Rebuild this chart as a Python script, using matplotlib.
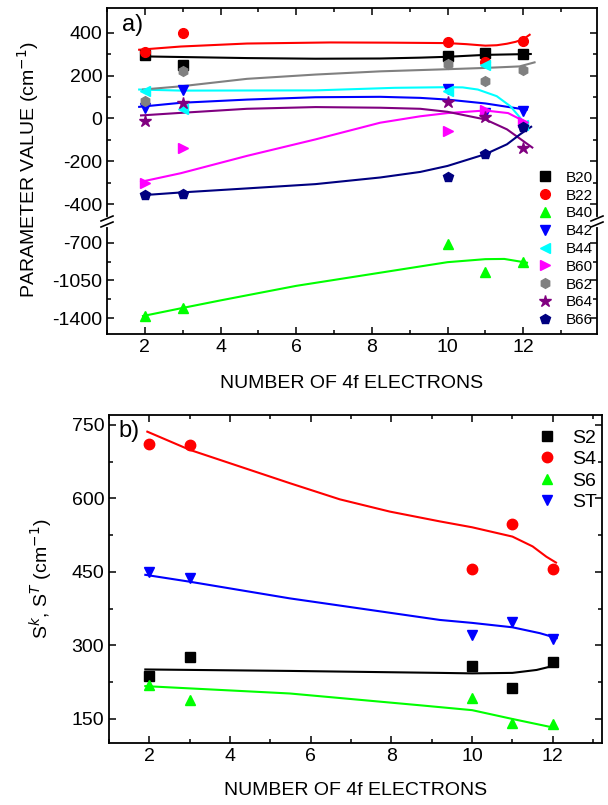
import numpy as np
import matplotlib
matplotlib.use("Agg")
import matplotlib.pyplot as plt
from matplotlib.ticker import MultipleLocator, FixedLocator
from matplotlib.lines import Line2D

plt.rcParams['font.family'] = ['Liberation Sans', 'DejaVu Sans']
plt.rcParams['axes.unicode_minus'] = False

# ---------------------------- data ----------------------------#
n_electrons = [2, 3, 10, 11, 12]

b20 = [295, 248, 290, 306, 300]
b22 = [310, 400, 355, 265, 363]
b40 = [-1380, -1310, -710, -975, -880]
b42 = [50, 135, 138, 25, 34]
b44 = [130, 45, 127, 251, -30]
b60 = [-300, -140, -59, 40, -18]
b62 = [80, 223, 256, 174, 228]
b64 = [-10, 70, 76, 6, -136]
b66 = [-360, -355, -276, -167, -38]

# fitted curves (x, value)
fit_b20_x = [1.9, 2.95, 4.7, 6.51, 8.22, 9.28, 10, 11, 12.2]
fit_b20 = [290, 287, 282, 279, 280, 284, 288, 297, 301]
fit_b22_x = [1.85, 2.95, 4.7, 6.9, 8.5, 10, 10.5, 11, 11.3, 11.57, 11.8, 12.0, 12.17]
fit_b22 = [321, 336, 350, 355, 354, 352, 347, 340, 342, 349, 358, 370, 391]
fit_b40_x = [1.95, 3, 4, 6, 8, 10, 11, 11.5, 12.1]
fit_b40 = [-1380, -1305, -1235, -1100, -990, -880, -852, -850, -885]
fit_b42_x = [1.85, 2.95, 4.7, 6.51, 8.22, 9.28, 10, 11, 11.92, 12.1]
fit_b42 = [54, 73, 88, 99, 101, 96, 88, 70, 45, 42]
fit_b44_x = [1.85, 2.95, 6.51, 8.6, 10, 10.4, 10.8, 11.3, 11.66, 11.92, 12.08]
fit_b44 = [135, 130, 131, 143, 146, 145, 135, 104, 57, 3, -43]
fit_b60_x = [1.9, 2.95, 4.7, 6.51, 8.22, 9.28, 10, 11, 11.6, 12.1]
fit_b60 = [-296, -256, -175, -98, -20, 10, 25, 37, 25, -20]
fit_b62_x = [1.95, 2.95, 4.7, 6.51, 8.22, 10, 11, 11.9, 12.3]
fit_b62 = [135, 150, 185, 205, 220, 230, 236, 243, 262]
fit_b64_x = [1.9, 2.95, 4.7, 6.51, 8.22, 9.28, 10, 11, 11.57, 12.24]
fit_b64 = [14, 26, 45, 53, 50, 45, 31, -5, -51, -136]
fit_b66_x = [2, 2.95, 4.7, 6.51, 8.22, 9.28, 10, 11, 11.57, 11.92, 12.21]
fit_b66 = [-358, -346, -327, -307, -276, -250, -222, -167, -121, -74, -39]

s2 = [238, 276, 259, 213, 266]
s4 = [711, 709, 456, 547, 456]
s6 = [219, 189, 192, 142, 140]
st = [449, 437, 321, 347, 313]

fit_s2_x = [1.9, 5.5, 9.2, 10, 11, 11.6, 12.1]
fit_s2 = [251, 248, 244, 243, 244, 250, 260]
fit_s4_x = [1.95, 3, 4.24, 5.48, 6.72, 7.96, 9.2, 10, 11, 11.5, 11.84, 12.08]
fit_s4 = [736, 699, 665, 631, 598, 573, 553, 541, 522, 502, 481, 469]
fit_s6_x = [1.9, 5.48, 8.7, 10, 11, 12.1]
fit_s6 = [217, 202, 178, 168, 150, 131]
fit_st_x = [1.9, 3, 5.48, 9.2, 10, 11, 11.68, 12.1]
fit_st = [444, 430, 396, 352, 346, 337, 325, 315]

# ---------------------------- figure ----------------------------#
W, H = 608, 805
fig = plt.figure(figsize=(W / 100, H / 100), dpi=100)

def fx(px):
    return px / W

def fy(py):
    return 1 - py / H

ax_hi = fig.add_axes([fx(107), fy(222), fx(597) - fx(107), fy(8) - fy(222)])
ax_lo = fig.add_axes([fx(107), fy(334), fx(597) - fx(107), fy(222) - fy(334)])
ax_b = fig.add_axes([fx(109), fy(743), fx(602) - fx(109), fy(415) - fy(743)])

top_series = [
    ("B20", b20, fit_b20_x, fit_b20, 's', 'black', ax_hi),
    ("B22", b22, fit_b22_x, fit_b22, 'o', 'red', ax_hi),
    ("B40", b40, fit_b40_x, fit_b40, '^', '#00ff00', ax_lo),
    ("B42", b42, fit_b42_x, fit_b42, 'v', 'blue', ax_hi),
    ("B44", b44, fit_b44_x, fit_b44, '<', 'cyan', ax_hi),
    ("B60", b60, fit_b60_x, fit_b60, '>', 'magenta', ax_hi),
    ("B62", b62, fit_b62_x, fit_b62, 'h', 'gray', ax_hi),
    ("B64", b64, fit_b64_x, fit_b64, '*', 'purple', ax_hi),
    ("B66", b66, fit_b66_x, fit_b66, 'p', 'navy', ax_hi),
]

handles = []
for name, vals, fxs, fvs, mk, col, ax in top_series:
    ax.plot(fxs, fvs, '-', color=col, lw=1.5, zorder=2)
    ms = 9 if mk == '*' else 7
    ax.plot(n_electrons, vals, mk, color=col, ms=ms, ls='none', zorder=3, clip_on=False)
    handles.append(Line2D([], [], marker=mk, color=col, ls='none', ms=ms))

for ax in (ax_hi, ax_lo, ax_b):
    ax.xaxis.set_major_locator(MultipleLocator(2))
    ax.xaxis.set_minor_locator(MultipleLocator(1))
    ax.tick_params(which='both', direction='in', top=True, right=True,
                   labelsize=14, width=1.1)
    ax.tick_params(which='major', length=5)
    ax.tick_params(which='minor', length=3)
    for sp in ax.spines.values():
        sp.set_linewidth(1.3)

ax_hi.set_xlim(1, 13.95)
ax_lo.set_xlim(1, 13.95)
ax_hi.set_ylim(-484, 516)
ax_lo.set_ylim(-1547, -507)
ax_hi.yaxis.set_major_locator(FixedLocator([-400, -200, 0, 200, 400]))
ax_hi.yaxis.set_minor_locator(FixedLocator([-300, -100, 100, 300]))
ax_lo.yaxis.set_major_locator(FixedLocator([-1400, -1050, -700]))
ax_lo.yaxis.set_minor_locator(FixedLocator([-1225, -875]))

ax_hi.spines['bottom'].set_visible(False)
ax_hi.tick_params(which='both', bottom=False, labelbottom=False)
ax_lo.spines['top'].set_visible(False)
ax_lo.tick_params(which='both', top=False)

ax_lo.set_xlabel("NUMBER OF 4f ELECTRONS", fontsize=14, labelpad=14)
fig.text(fx(28), fy(170), "PARAMETER VALUE (cm$^{-1}$)", rotation=90,
         ha='center', va='center', fontsize=14)
ax_hi.text(0.03, 0.97, "a)", transform=ax_hi.transAxes, fontsize=17,
           ha='left', va='top')

# axis break marks
for bx in (107, 597):
    fig.add_artist(Line2D([fx(bx), fx(bx)], [fy(225), fy(219)], color='white',
                          lw=3, transform=fig.transFigure))
    for dy in (-3, 3):
        fig.add_artist(Line2D([fx(bx - 6), fx(bx + 6)],
                              [fy(224 + dy), fy(219 + dy)],
                              color='black', lw=1.2, transform=fig.transFigure))

fig.legend(handles, [s[0] for s in top_series], loc='center',
           bbox_to_anchor=(fx(565), fy(249)), frameon=False, fontsize=11,
           handlelength=1.0, handletextpad=0.9, labelspacing=0.25,
           borderpad=0.2)

# ------------------------- bottom panel -------------------------#
bottom_series = [
    ("S2", s2, fit_s2_x, fit_s2, 's', 'black'),
    ("S4", s4, fit_s4_x, fit_s4, 'o', 'red'),
    ("S6", s6, fit_s6_x, fit_s6, '^', '#00ff00'),
    ("ST", st, fit_st_x, fit_st, 'v', 'blue'),
]
for name, vals, fxs, fvs, mk, col in bottom_series:
    ax_b.plot(fxs, fvs, '-', color=col, lw=1.5, zorder=2)
    ax_b.plot(n_electrons, vals, mk, color=col, ms=7.5, ls='none', zorder=3,
              label=name)

ax_b.set_xlim(1, 13.22)
ax_b.set_ylim(101, 770)
ax_b.yaxis.set_major_locator(MultipleLocator(150))
ax_b.yaxis.set_minor_locator(FixedLocator([225, 375, 525, 675]))
ax_b.set_xlabel("NUMBER OF 4f ELECTRONS", fontsize=14, labelpad=12)
ax_b.set_ylabel("S$^k$, S$^T$ (cm$^{-1}$)", fontsize=14, labelpad=12)
ax_b.text(0.02, 0.985, "b)", transform=ax_b.transAxes, fontsize=17,
          ha='left', va='top')
ax_b.legend(loc='center', bbox_to_anchor=(fx(567), fy(470)),
            bbox_transform=fig.transFigure, frameon=False, fontsize=14,
            handlelength=1.0, handletextpad=0.8, labelspacing=0.2,
            borderpad=0.2)

fig.savefig("out.png", dpi=100)
